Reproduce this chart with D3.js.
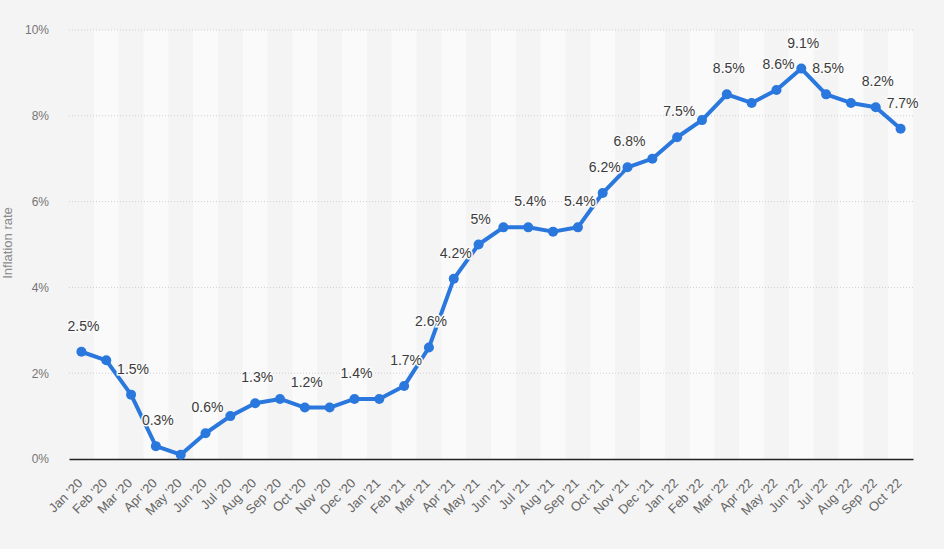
<!DOCTYPE html>
<html lang="en">
    <head>
        <meta charset="UTF-8" />
        <title>index</title>
        <style>
            body {
                margin: 0;
                background-color: #f4f4f4;
            }
            text {
                font-family: "Liberation Sans", Arial, sans-serif;
            }
        </style>
        <script src="https://d3js.org/d3.v7.min.js"></script>
    </head>
    <body>
        <div id="my_dataviz"></div>
    </body>
<script>
// months shown on the x axis
var months = ["Jan '20", "Feb '20", "Mar '20", "Apr '20", "May '20", "Jun '20", "Jul '20", "Aug '20",
              "Sep '20", "Oct '20", "Nov '20", "Dec '20", "Jan '21", "Feb '21", "Mar '21", "Apr '21",
              "May '21", "Jun '21", "Jul '21", "Aug '21", "Sep '21", "Oct '21", "Nov '21", "Dec '21",
              "Jan '22", "Feb '22", "Mar '22", "Apr '22", "May '22", "Jun '22", "Jul '22", "Aug '22",
              "Sep '22", "Oct '22"];

// inflation rate in percent
var rates = [2.5, 2.3, 1.5, 0.3, 0.1, 0.6, 1.0, 1.3, 1.4, 1.2, 1.2, 1.4,
             1.4, 1.7, 2.6, 4.2, 5.0, 5.4, 5.4, 5.3, 5.4, 6.2, 6.8, 7.0,
             7.5, 7.9, 8.5, 8.3, 8.6, 9.1, 8.5, 8.3, 8.2, 7.7];

// months that carry a value label
var labelled = ["Jan '20", "Mar '20", "Apr '20", "Jun '20", "Aug '20", "Oct '20", "Dec '20",
                "Feb '21", "Mar '21", "Apr '21", "May '21", "Jul '21", "Sep '21", "Oct '21",
                "Nov '21", "Jan '22", "Mar '22", "May '22", "Jun '22", "Jul '22", "Sep '22", "Oct '22"];

// y axis ticks
var yTicks = [0, 2, 4, 6, 8, 10];

var data = months.map(function(m, i) { return {month: m, value: rates[i]}; });

var margin = {top: 30, right: 31, bottom: 90, left: 69},
    width = 944 - margin.left - margin.right,
    height = 549 - margin.top - margin.bottom;

var svg = d3.select("#my_dataviz")
  .append("svg")
    .attr("width", width + margin.left + margin.right)
    .attr("height", height + margin.top + margin.bottom)
  .append("g")
    .attr("transform", "translate(" + margin.left + "," + margin.top + ")");

var x = d3.scaleBand()
  .range([0, width])
  .domain(months)
  .padding(0);

var y = d3.scaleLinear()
  .domain([0, 10])
  .range([height, 0]);

// alternating column bands
svg.selectAll("rect.band")
  .data(months.filter(function(m, i) { return i % 2 == 1; }))
  .enter()
  .append("rect")
    .attr("class", "band")
    .attr("x", function(d) { return x(d); })
    .attr("y", 0)
    .attr("width", x.bandwidth())
    .attr("height", height)
    .attr("fill", "#fafafa");

// grid lines
svg.selectAll("line.grid")
  .data(yTicks.filter(function(d) { return d > 0; }))
  .enter()
  .append("line")
    .attr("class", "grid")
    .attr("x1", 0)
    .attr("x2", width)
    .attr("y1", function(d) { return y(d); })
    .attr("y2", function(d) { return y(d); })
    .attr("stroke", "#cfcfcf")
    .attr("stroke-width", 1)
    .attr("stroke-dasharray", "1,2");

// Y axis
var yAxis = svg.append("g")
  .call(d3.axisLeft(y).tickValues(yTicks).tickSize(0).tickPadding(20)
        .tickFormat(function(d) { return d + "%"; }));
yAxis.select(".domain").remove();
yAxis.selectAll("text")
  .attr("fill", "#747474")
  .style("font-size", "12px")
  .style("font-family", "'Liberation Sans', Arial, sans-serif");

// X axis
var xAxis = svg.append("g")
  .attr("transform", "translate(0," + height + ")")
  .call(d3.axisBottom(x).tickSize(0));
xAxis.select(".domain")
  .attr("stroke", "#222")
  .attr("stroke-width", 1.5);
xAxis.selectAll("text")
  .attr("fill", "#666")
  .attr("y", 0)
  .attr("dy", 0)
  .attr("text-anchor", "end")
  .attr("transform", "translate(2,25) rotate(-45)")
  .style("font-size", "13px")
  .style("font-family", "'Liberation Sans', Arial, sans-serif");

// axis title
svg.append("text")
  .attr("transform", "translate(" + (12 - margin.left) + "," + (243 - margin.top) + ") rotate(-90)")
  .attr("text-anchor", "middle")
  .attr("fill", "#8a8a8a")
  .style("font-size", "13px")
  .text("Inflation rate");

var cx = function(d) { return x(d.month) + x.bandwidth() / 2; };

// line
svg.append("path")
  .datum(data)
  .attr("fill", "none")
  .attr("stroke", "#2a77de")
  .attr("stroke-width", 4)
  .attr("stroke-linejoin", "round")
  .attr("d", d3.line()
    .x(cx)
    .y(function(d) { return y(d.value); }));

// points
svg.selectAll("circle")
  .data(data)
  .enter()
  .append("circle")
    .attr("cx", cx)
    .attr("cy", function(d) { return y(d.value); })
    .attr("r", 5)
    .attr("fill", "#2a77de");

// value labels
svg.selectAll("text.label")
  .data(data.filter(function(d) { return labelled.indexOf(d.month) >= 0; }))
  .enter()
  .append("text")
    .attr("class", "label")
    .attr("x", function(d) { return cx(d) + 2; })
    .attr("y", function(d) { return y(d.value) - 21; })
    .attr("text-anchor", "middle")
    .attr("fill", "#3c3c3c")
    .attr("stroke", "#fafafa")
    .attr("stroke-width", 3)
    .attr("paint-order", "stroke")
    .style("font-size", "14px")
    .text(function(d) { return d.value + "%"; });
</script>
</html>
